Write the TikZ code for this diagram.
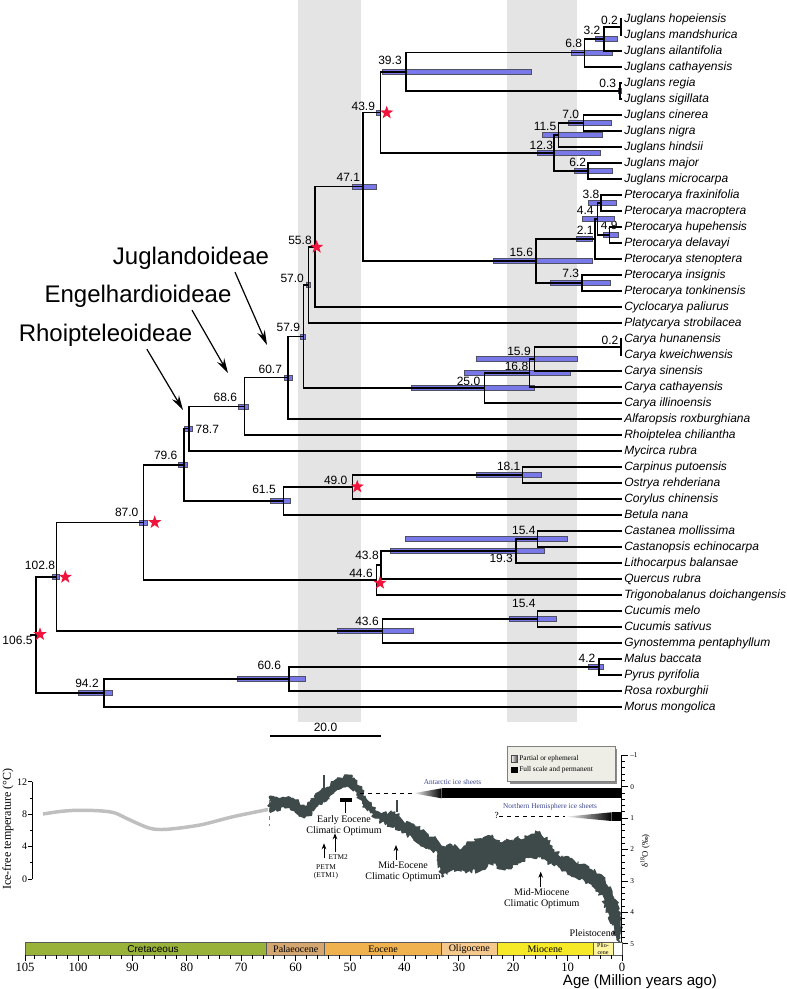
\documentclass[tikz,border=0pt]{standalone}
\usepackage{fontspec}
\setmainfont{Liberation Serif}
\newfontfamily\arial{Liberation Sans}
\usetikzlibrary{arrows.meta,shapes.geometric,decorations.pathmorphing}

\definecolor{barblue}{RGB}{120,120,232}
\definecolor{bargrey}{RGB}{80,80,100}
\definecolor{starred}{RGB}{240,20,60}
\definecolor{band}{RGB}{228,228,228}
\definecolor{climate}{RGB}{62,74,74}
\definecolor{iceblue}{RGB}{60,70,140}
\definecolor{cret}{RGB}{153,178,58}
\definecolor{palaeo}{RGB}{212,166,112}
\definecolor{eoc}{RGB}{240,178,78}
\definecolor{oligo}{RGB}{245,200,140}
\definecolor{mioc}{RGB}{245,233,40}
\definecolor{plioc}{RGB}{255,244,160}
\definecolor{legendbg}{RGB}{238,238,230}

\begin{document}
\begin{tikzpicture}[x=0.75pt, y=-0.75pt,
    branch/.style={line width=0.9pt},
    hpd/.style={fill=barblue, draw=bargrey, line width=0.6pt},
    tip/.style={anchor=west, inner xsep=1.5pt, inner ysep=0pt, text height=1.5ex,
                text depth=.25ex, font=\arial\itshape\fontsize{9}{10}\selectfont},
    age/.style={inner sep=0pt, font=\arial\fontsize{9}{10}\selectfont},
    redstar/.style={star, star points=5, star point ratio=2.5, minimum size=10.5pt,
                    inner sep=0pt, fill=starred},
    clade/.style={inner sep=0pt, font=\arial\fontsize{18}{20}\selectfont},
    pointer/.style={-{Stealth[length=11pt,width=6pt]}, line width=0.9pt},
    note/.style={inner sep=0pt, align=center, font=\fontsize{7.5}{8}\selectfont},
    small/.style={inner sep=0pt, align=center, font=\fontsize{5.5}{6.5}\selectfont},
    axlab/.style={inner sep=0pt, font=\fontsize{7.5}{8}\selectfont},
    yr/.style={inner sep=0pt, font=\fontsize{9.5}{10}\selectfont},
    up/.style={-{Stealth[length=4.5pt,width=3.5pt]}, line width=0.7pt},
    epoch/.style={draw=black!65, line width=0.7pt}]

  \useasboundingbox (0,0) rectangle (787,989);

  % ---- grey time bands
  \fill[band] (298,0) rectangle (361,722);
  \fill[band] (507,0) rectangle (577,722);

  % ---- node ages (under the bars, as in the source)
  \foreach \x/\y/\t [count=\n] in {17.5/640.7/106.5, 40/565.7/102.8, 87/683.3/94.2,
      269.3/665.7/60.6, 126.7/512.7/87.0, 165.7/455/79.6, 207.3/429/78.7, 264/489.3/61.5,
      335.7/480/49.0, 225.3/397.7/68.6, 270.3/369.3/60.7, 288.3/327.7/57.9,
      292.2/278.3/57.0, 300/240/55.8, 348.3/177.3/47.1, 363.3/106/43.9, 390/60/39.3,
      573.7/43.3/6.8, 592/30/3.2, 609.5/20/0.2, 607.7/83.3/0.3, 570.7/114/7.0,
      545/126.7/11.5, 541.3/145.7/12.3, 577.7/162.7/6.2, 591/194.3/3.8, 585.3/210.7/4.4,
      609.2/225/4.9, 585.3/230/2.1, 521.3/252.7/15.6, 570.7/273.3/7.3, 519/351/15.9,
      516.5/366.7/16.8, 468.5/381.7/25.0, 610/340.7/0.2, 508.7/466.7/18.1,
      523.8/530.7/15.4, 501.2/558.3/19.3, 367/555.7/43.8, 361/573.3/44.6,
      367/621/43.6, 523.8/603.3/15.4, 587/658/4.2}
    \node[age] (l\n) at (\x,\y) {\t};

  % ---- 95% HPD bars
  \foreach \xa/\xb/\y in {52.3/59.3/577, 139/147.3/522.4, 178.7/187.3/464.9,
      184.3/192.7/428.7, 238.7/248.3/406.4, 284.3/292.3/377.8, 300/305.7/336.5,
      306/310/285, 352.3/376.7/186.7, 376.7/380.7/112.5, 382/531/71.9, 571/612/52.7,
      595/617/39, 618.7/621.3/91, 568/611/123, 542/602/135, 537/600/153, 574/612/171,
      588.3/616.7/203, 582.7/614.3/219, 603.3/618.3/235, 576.7/592.3/239,
      493.3/592.3/261, 550.7/610/283, 476/577/359, 464.7/570/373, 411.7/534/388,
      476/541.7/475, 270/290.7/501, 405.7/567.7/539, 390.7/544.3/551,
      337.7/413.3/631, 509.3/556.7/619, 588/603/667, 237/305/679, 78/112/693}
    \draw[hpd] (\xa,{\y-2.5}) rectangle (\xb,{\y+2.5});

  % ---- tips
  \foreach \i/\sp in {1/Juglans hopeiensis, 2/Juglans mandshurica, 3/Juglans ailantifolia,
      4/Juglans cathayensis, 5/Juglans regia, 6/Juglans sigillata, 7/Juglans cinerea,
      8/Juglans nigra, 9/Juglans hindsii, 10/Juglans major, 11/Juglans microcarpa,
      12/Pterocarya fraxinifolia, 13/Pterocarya macroptera, 14/Pterocarya hupehensis,
      15/Pterocarya delavayi, 16/Pterocarya stenoptera, 17/Pterocarya insignis,
      18/Pterocarya tonkinensis, 19/Cyclocarya paliurus, 20/Platycarya strobilacea,
      21/Carya hunanensis, 22/Carya kweichwensis, 23/Carya sinensis, 24/Carya cathayensis,
      25/Carya illinoensis, 26/Alfaropsis roxburghiana, 27/Rhoiptelea chiliantha,
      28/Mycirca rubra, 29/Carpinus putoensis, 30/Ostrya rehderiana, 31/Corylus chinensis,
      32/Betula nana, 33/Castanea mollissima, 34/Castanopsis echinocarpa,
      35/Lithocarpus balansae, 36/Quercus rubra, 37/Trigonobalanus doichangensis,
      38/Cucumis melo, 39/Cucumis sativus, 40/Gynostemma pentaphyllum, 41/Malus baccata,
      42/Pyrus pyrifolia, 43/Rosa roxburghii, 44/Morus mongolica}
    \node[tip] (t\i) at (622,{19+16*(\i-1)}) {\sp};

  % ---- internal nodes (x from the age axis, y mid of the children)
  \coordinate (r0)    at (30,635);
  \coordinate (r)     at (36,635);
  \coordinate (a1028) at (56.6,577);
  \coordinate (a942)  at (104,693);
  \coordinate (a606)  at (289,679);
  \coordinate (a42)   at (599,667);
  \coordinate (a870)  at (143.5,522.4);
  \coordinate (a796)  at (184,464.9);
  \coordinate (a787)  at (189,428.7);
  \coordinate (a686)  at (244.7,406.4);
  \coordinate (a607)  at (288,377.8);
  \coordinate (a579)  at (303.5,336.5);
  \coordinate (a570)  at (308.5,285);
  \coordinate (a558)  at (315,246.9);
  \coordinate (a471)  at (363,186.7);
  \coordinate (a439)  at (380.5,112.5);
  \coordinate (a393)  at (406,71.9);
  \coordinate (a68)   at (584.6,52.7);
  \coordinate (a32)   at (604,39);
  \coordinate (a02)   at (621,27);
  \coordinate (a03)   at (620,91);
  \coordinate (a123)  at (554,153);
  \coordinate (a115)  at (558.7,135);
  \coordinate (a70)   at (583.5,123);
  \coordinate (a62)   at (588,171);
  \coordinate (a156)  at (536,261);
  \coordinate (p49)   at (595,239);
  \coordinate (p44)   at (597.3,219);
  \coordinate (p38)   at (601,203);
  \coordinate (p21)   at (609.3,235);
  \coordinate (a73)   at (581.9,283);
  \coordinate (a250)  at (484.5,388);
  \coordinate (a168)  at (529.6,373);
  \coordinate (a159)  at (534.5,359);
  \coordinate (c02)   at (621,347);
  \coordinate (a615)  at (283.7,501);
  \coordinate (a490)  at (352.5,487);
  \coordinate (a181)  at (522.4,475);
  \coordinate (a446)  at (376.7,580);
  \coordinate (a438)  at (381,565);
  \coordinate (a193)  at (515.9,551);
  \coordinate (c154)  at (537.3,539);
  \coordinate (a436)  at (382.2,631);
  \coordinate (u154)  at (537.3,619);

  % ---- branches: parent / upper child / lower child
  \draw[branch] (r0) -- (r);
  \foreach \p/\a/\b in {r/a1028/a942, a1028/a870/a436, a942/a606/t44.west,
      a606/a42/t43.west, a42/t41.west/t42.west, a870/a796/a446, a796/a787/a615,
      a787/a686/t28.west, a686/a607/t27.west, a607/a579/t26.west, a579/a570/a250,
      a570/a558/t20.west, a558/a471/t19.west, a471/a439/a156, a439/a393/a123,
      a393/a68/a03, a68/a32/t4.west, a32/a02/t3.west, a02/t1.west/t2.west,
      a03/t5.west/t6.west, a123/a115/a62, a115/a70/t9.west, a70/t7.west/t8.west,
      a62/t10.west/t11.west, a156/p49/a73, p49/p44/t16.west, p44/p38/p21,
      p38/t12.west/t13.west, p21/t14.west/t15.west, a73/t17.west/t18.west,
      a250/a168/t25.west, a168/a159/t24.west, a159/c02/t23.west, c02/t21.west/t22.west,
      a615/a490/t32.west, a490/a181/t31.west, a181/t29.west/t30.west,
      a446/a438/t37.west, a438/a193/t36.west, a193/c154/t35.west, c154/t33.west/t34.west,
      a436/u154/t40.west, u154/t38.west/t39.west}
    \draw[branch] (\a) -| (\p) |- (\b);

  % ---- calibration stars
  \foreach \x/\y [count=\n] in {40/634.3, 65.3/577, 154.7/522.3, 357.3/486.7,
      380/583, 316.7/247, 386.7/112.7}
    \node[redstar] (s\n) at (\x,\y) {};

  % ---- subfamilies
  \node[clade] (jugl) at (191,258) {Juglandoideae};
  \node[clade] (enge) at (138,296) {Engelhardioideae};
  \node[clade] (rhoi) at (105.5,335) {Rhoipteleoideae};
  \coordinate (juglT) at (267,345);
  \coordinate (engeT) at (228,373);
  \coordinate (rhoiT) at (183,410);
  \draw[pointer] ([xshift=33pt,yshift=-2pt]jugl.south) -- (juglT);
  \draw[pointer] ([xshift=40.5pt,yshift=-2pt]enge.south) -- (engeT);
  \draw[pointer] ([xshift=31pt,yshift=-2pt]rhoi.south) -- (rhoiT);

  % ---- scale bar
  \node[age] (scal) at (325.5,727) {20.0};
  \draw[line width=1.2pt] (270,736) -- (381,736);

  % ---- temperature axis
  \draw[line width=0.6pt] (32.3,781.7) -- (32.3,879);
  \foreach \t in {0,2,...,12}
    \draw[line width=0.6pt] (32.3,{879-8.11*\t}) -- ++(-2.5,0);
  \foreach \t in {0,4,8,12} {
    \draw[line width=0.6pt] (32.3,{879-8.11*\t}) -- ++(-4,0);
    \node[axlab, anchor=east] at (27.5,{879-8.11*\t}) {\t};
  }
  \node[inner sep=0pt, rotate=90, font=\fontsize{9}{10}\selectfont] (tlab) at (8,829)
    {Ice-free temperature (°C)};

  % ---- Cretaceous model curve
  \draw[gray!50, line width=2.6pt] plot[smooth] coordinates {(43,814) (60,811.5) (77,810.3)
    (100,810.8) (115,813) (130,820) (150,828.3) (167,829.3) (200,825) (233,816.7) (268,809.5)};
  \draw[gray, dashed, line width=0.5pt] (269,800) -- (269,826);

  % ---- Cenozoic isotope band: upper edge, then lower edge back
  \pgfmathsetseed{11}
  \filldraw[climate, line width=0.8pt, line join=round, decorate,
        decoration={random steps, segment length=1.5pt, amplitude=1.8pt}]
    plot coordinates {(270,796) (276,797) (285,798) (295,800) (304,806) (312,800) (319,792)
      (324,789) (329,787) (334,781) (340,778) (347,775) (354,778) (359,786) (365,796)
      (375,809) (388,814) (395,812) (402,820) (415,826) (428,834) (437,840)
      (440,845) (446,848) (452,845) (462,850) (470,842) (482,840) (492,835) (502,843)
      (512,840) (525,837) (539,832) (547,840) (554,850) (562,856) (575,862) (589,867)
      (599,874) (605,881) (612,893) (617,903) (620,915)}
    -- plot coordinates {(620,945) (617,940) (612,925) (605,904) (599,892) (589,882)
      (575,877) (562,871) (552,864) (539,857) (530,857) (518,863) (505,870) (492,863)
      (480,871) (465,871) (452,870) (442,877) (438,853) (428,848) (415,840) (402,832)
      (395,826) (388,825) (375,818) (365,807) (359,797) (354,789) (347,786) (340,789)
      (334,792) (329,799) (324,802) (319,804) (312,813) (304,818) (295,812) (285,808)
      (276,809) (270,812)} -- cycle;
  \draw[climate, line width=1.5pt] (323.7,800) -- (323.7,775);
  \draw[climate, line width=1.5pt] (396.7,812) -- (396.7,800);

  % ---- climatic events
  \fill (340,798) rectangle (352,802);
  \draw[line width=0.7pt] (345,802) -- (345,813);
  \node[note] (eeco) at (344,825.5) {Early Eocene\\Climatic Optimum};
  \draw[up] (335,851.7) -- (335,833.3);
  \node[small] (etm2) at (338.3,856.7) {ETM2};
  \draw[up] (324,858.3) -- (324,843.3);
  \node[small] (petm) at (326,872) {PETM\\(ETM1)};
  \draw[up] (396,860) -- (396,845);
  \node[note] (meco) at (403,871.5) {Mid-Eocene\\Climatic Optimum};
  \draw[up] (540.7,886.7) -- (540.7,871.7);
  \node[note] (mmco) at (541.7,898.7) {Mid-Miocene\\Climatic Optimum};
  \node[note] (plei) at (592.5,933.3) {Pleistocene};

  % ---- ice sheets
  \fill[black!45] (509.7,748.7) rectangle (617,783.7);
  \filldraw[fill=legendbg, draw=black!50, line width=0.5pt] (507.7,746.7) rectangle (615,781.7);
  \shade[left color=white, right color=black!75] (511,755) rectangle (517.7,762.3);
  \draw[black!70, line width=0.4pt] (511,755) rectangle (517.7,762.3);
  \fill (511,766.7) rectangle (517.7,773.3);
  \node[small, anchor=west] (leg1) at (519,758.7) {Partial or ephemeral};
  \node[small, anchor=west] (leg2) at (519,770) {Full scale and permanent};

  \node[small, iceblue] (anta) at (452.5,782.3) {Antarctic ice sheets};
  \draw[dashed, line width=0.8pt] (360,793.3) -- (413,793.3);
  \shade[left color=white, right color=black] (413,793.3) -- (441.7,788.3) -- (441.7,798.3) -- cycle;
  \fill (441.7,788.3) rectangle (621.7,798.3);

  \node[small, iceblue] (nhem) at (550,806.7) {Northern Hemisphere ice sheets};
  \node[small, font=\fontsize{7}{8}\selectfont] (qmark) at (496.7,815) {?};
  \draw[dashed, line width=0.8pt] (499,816.7) -- (565,816.7);
  \shade[left color=white, right color=black] (565,816.7) -- (611.7,812.3) -- (611.7,821) -- cycle;
  \fill (611.7,812.3) rectangle (621.7,821);

  % ---- isotope axis
  \draw[line width=0.6pt] (621.7,755.3) -- (621.7,943.7);
  \foreach \k in {0,...,30}
    \draw[line width=0.6pt] (621.7,{755.3+6.28*\k}) -- ++(3,0);
  \foreach \d [count=\k from 0] in {--1,0,1,2,3,4,5} {
    \draw[line width=0.6pt] (621.7,{755.3+31.4*\k}) -- ++(6,0);
    \node[small, anchor=west] at (630,{755.3+31.4*\k}) {\d};
  }
  \node[small, rotate=90, font=\fontsize{6.5}{7}\selectfont] (dlab) at (645,851)
    {δ\textsuperscript{18}O (‰)};

  % ---- geological timescale
  \foreach \xa/\xb/\c in {25/266.7/cret, 266.7/324.7/palaeo, 324.7/441.3/eoc,
      441.3/497.3/oligo, 497.3/593/mioc, 593/613.3/plioc, 613.3/622/white}
    \filldraw[epoch, fill=\c] (\xa,942.7) rectangle (\xb,955);
  \node[inner sep=0pt, font=\arial\fontsize{7.5}{8}\selectfont] (cre) at (153,949) {Cretaceous};
  \node[note] (pal) at (295.7,949) {Palaeocene};
  \node[note] (eoc) at (383,949) {Eocene};
  \node[note] (oli) at (469.3,949) {Oligocene};
  \node[note] (mio) at (545,949) {Miocene};
  \node[inner sep=0pt, align=center, font=\fontsize{4.5}{4.8}\selectfont] (pli) at (603,949) {Plio-\\cene};

  % ---- age axis
  \foreach \k in {0,...,54}
    \draw[line width=0.6pt] ({622-10.88*\k},955) -- ++(0,3.5);
  \draw[line width=0.6pt] (25,955) -- ++(0,6);
  \node[yr] at (25,967) {105};
  \foreach \a in {0,10,...,100} {
    \draw[line width=0.6pt] ({622-5.44*\a},955) -- ++(0,6);
    \node[yr] at ({622-5.44*\a},967) {\a};
  }
  \node[inner sep=0pt, anchor=base, font=\arial\fontsize{11.3}{13}\selectfont] (agel)
    at (640,985.5) {Age (Million years ago)};
\end{tikzpicture}
\end{document}
